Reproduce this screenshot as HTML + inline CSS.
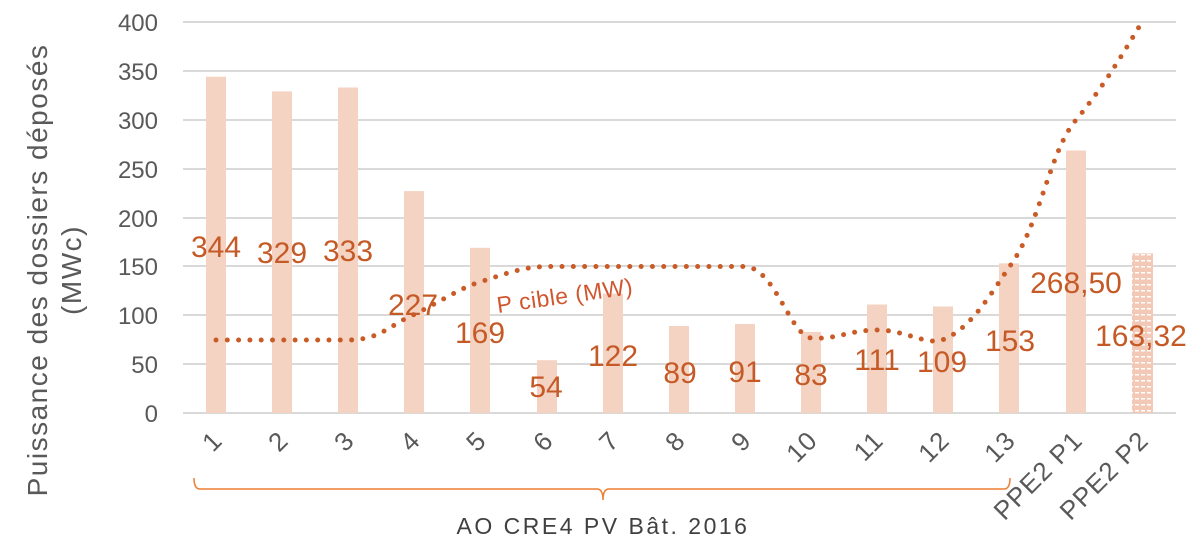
<!DOCTYPE html>
<html><head><meta charset="utf-8"><style>
html,body{margin:0;padding:0;background:#fff;}
svg{display:block;font-family:"Liberation Sans",sans-serif;}
</style></head><body>
<svg width="1200" height="560" viewBox="0 0 1200 560">
<defs>
<pattern id="pt" width="6" height="6" patternUnits="userSpaceOnUse">
<rect width="6" height="6" fill="#f2c9b6"/>
<rect x="1" y="2" width="4" height="1.5" fill="#fff"/>
</pattern>
</defs>
<g stroke="#d9d9d9" stroke-width="2">
<line x1="183" x2="1176" y1="22" y2="22"/>
<line x1="183" x2="1176" y1="71" y2="71"/>
<line x1="183" x2="1176" y1="120" y2="120"/>
<line x1="183" x2="1176" y1="169" y2="169"/>
<line x1="183" x2="1176" y1="218" y2="218"/>
<line x1="183" x2="1176" y1="266" y2="266"/>
<line x1="183" x2="1176" y1="315" y2="315"/>
<line x1="183" x2="1176" y1="364" y2="364"/>
<line x1="183" x2="1176" y1="413" y2="413"/>
</g>
<g font-size="24" fill="#595959" text-anchor="end">
<text x="158" y="31">400</text><text x="158" y="80">350</text><text x="158" y="129">300</text>
<text x="158" y="178">250</text><text x="158" y="227">200</text><text x="158" y="275">150</text>
<text x="158" y="324">100</text><text x="158" y="373">50</text><text x="158" y="422">0</text>
</g>
<g fill="#f4d3c3">
<rect x="206" y="76.7" width="20" height="336.3"/>
<rect x="272" y="91.4" width="20" height="321.6"/>
<rect x="338" y="87.5" width="20" height="325.5"/>
<rect x="404" y="191.1" width="20" height="221.9"/>
<rect x="470" y="247.8" width="20" height="165.2"/>
<rect x="537" y="360.2" width="20" height="52.8"/>
<rect x="603" y="293.7" width="20" height="119.3"/>
<rect x="669" y="326" width="20" height="87"/>
<rect x="735" y="324" width="20" height="89"/>
<rect x="801" y="331.9" width="20" height="81.1"/>
<rect x="867" y="304.5" width="20" height="108.5"/>
<rect x="933" y="306.5" width="20" height="106.5"/>
<rect x="999" y="263.4" width="20" height="149.6"/>
<rect x="1066" y="150.5" width="20" height="262.5"/>
</g>
<rect x="1132" y="253.4" width="21" height="159.6" fill="url(#pt)"/>
<path d="M216,340 L348,340 C380,340 390,325 413,315 C440,302 460,288 480,282 C510,272 525,267 546,266.5 L745,266.5 C775,268 790,335 811,338 C835,340 850,330 877,330 C905,330 925,345 942,340 C970,330 990,295 1010,266 C1040,225 1050,150 1076,120 C1105,85 1125,50 1142,22" fill="none" stroke="#c95b27" stroke-width="5" stroke-linecap="round" stroke-dasharray="0 11.3"/>
<text x="498" y="313" font-size="23" fill="#d0562e" letter-spacing="0.5" transform="rotate(-8 498 313)">P cible (MW)</text>
<g font-size="30" fill="#c55a26" text-anchor="middle">
<text x="216" y="257">344</text><text x="282" y="263">329</text><text x="348" y="261">333</text>
<text x="413" y="315">227</text><text x="480" y="343">169</text><text x="546" y="397">54</text>
<text x="613" y="366">122</text><text x="680" y="383">89</text><text x="745" y="382">91</text>
<text x="811" y="385">83</text><text x="877" y="370">111</text><text x="942" y="372">109</text>
<text x="1010" y="351">153</text><text x="1076" y="293">268,50</text><text x="1141" y="346">163,32</text>
</g>
<g font-size="26" fill="#595959" text-anchor="end" letter-spacing="1">
<text transform="translate(224,442) rotate(-45)">1</text>
<text transform="translate(290,442) rotate(-45)">2</text>
<text transform="translate(356,442) rotate(-45)">3</text>
<text transform="translate(422,442) rotate(-45)">4</text>
<text transform="translate(488,442) rotate(-45)">5</text>
<text transform="translate(555,442) rotate(-45)">6</text>
<text transform="translate(621,442) rotate(-45)">7</text>
<text transform="translate(687,442) rotate(-45)">8</text>
<text transform="translate(753,442) rotate(-45)">9</text>
<text transform="translate(819,442) rotate(-45)">10</text>
<text transform="translate(885,442) rotate(-45)">11</text>
<text transform="translate(951,442) rotate(-45)">12</text>
<text transform="translate(1017,442) rotate(-45)">13</text>
<text transform="translate(1084,442) rotate(-45)">PPE2 P1</text>
<text transform="translate(1150,442) rotate(-45)">PPE2 P2</text>
</g>
<path d="M194,478 Q194,489 200,489 L597,489 Q603,489 603,500 Q603,489 609,489 L1004,489 Q1010,489 1010,478" fill="none" stroke="#ed7d31" stroke-width="1.5"/>
<text x="603" y="534" font-size="23" fill="#404040" text-anchor="middle" letter-spacing="2.5">AO CRE4 PV Bât. 2016</text>
<g font-size="28" fill="#595959" text-anchor="middle" letter-spacing="1.5">
<text transform="translate(47,270) rotate(-90)">Puissance des dossiers déposés</text>
<text transform="translate(81,270) rotate(-90)">(MWc)</text>
</g>
</svg>
</body></html>
